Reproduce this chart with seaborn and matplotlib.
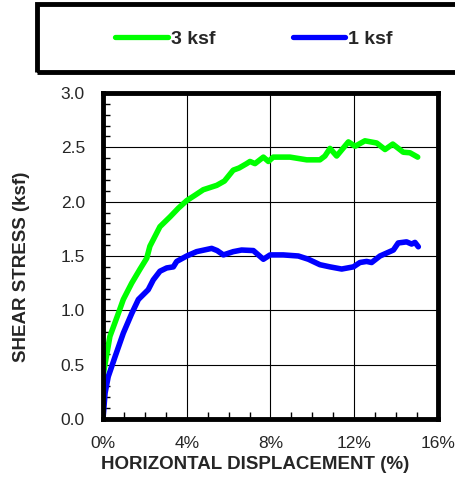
import matplotlib
matplotlib.use("Agg")
import matplotlib.pyplot as plt
from matplotlib.patches import Rectangle
from matplotlib.lines import Line2D
from matplotlib.ticker import MultipleLocator, FuncFormatter
import seaborn as sns
import pandas as pd

# 3 ksf series
x_3ksf = [0.0, 0.02, 0.33, 0.73, 0.97, 1.37, 1.77, 2.09, 2.24, 2.72, 3.2, 3.6, 4.0, 4.4, 4.79,
          5.43, 5.8, 6.22, 6.5, 6.86, 7.02, 7.26, 7.66, 7.9, 8.13, 8.93, 9.73, 10.36, 10.6,
          10.84, 11.16, 11.72, 12.04, 12.51, 13.07, 13.47, 13.84, 14.34, 14.66, 15.03]
y_3ksf = [0.0, 0.42, 0.76, 0.97, 1.10, 1.25, 1.38, 1.48, 1.59, 1.77, 1.86, 1.94, 2.01, 2.06, 2.11,
          2.15, 2.19, 2.29, 2.31, 2.35, 2.37, 2.35, 2.41, 2.37, 2.41, 2.41, 2.385, 2.385, 2.42,
          2.49, 2.42, 2.55, 2.51, 2.56, 2.54, 2.48, 2.53, 2.455, 2.45, 2.41]

# 1 ksf series
x_1ksf = [0.0, 0.1, 0.25, 0.57, 0.97, 1.37, 1.69, 2.16, 2.4, 2.72, 3.04, 3.36, 3.52, 4.0, 4.47,
          5.19, 5.45, 5.75, 6.22, 6.62, 7.18, 7.42, 7.66, 7.98, 8.61, 9.33, 9.81, 10.36, 10.84,
          11.4, 11.96, 12.27, 12.59, 12.83, 13.23, 13.87, 14.1, 14.5, 14.74, 14.9, 15.06]
y_1ksf = [0.0, 0.24, 0.39, 0.57, 0.79, 0.97, 1.10, 1.19, 1.28, 1.36, 1.39, 1.40, 1.45, 1.50, 1.54,
          1.57, 1.55, 1.51, 1.54, 1.555, 1.55, 1.51, 1.47, 1.51, 1.51, 1.50, 1.47, 1.42, 1.40,
          1.38, 1.40, 1.44, 1.45, 1.44, 1.50, 1.555, 1.62, 1.63, 1.61, 1.625, 1.585]

series_names = ["3 ksf", "1 ksf"]
x_ticks = [0, 4, 8, 12, 16]
y_ticks = [0.0, 0.5, 1.0, 1.5, 2.0, 2.5, 3.0]

df = pd.concat([
    pd.DataFrame({"x": x_3ksf, "y": y_3ksf, "series": series_names[0]}),
    pd.DataFrame({"x": x_1ksf, "y": y_1ksf, "series": series_names[1]}),
], ignore_index=True)

sns.set_style("white")
plt.rcParams["font.family"] = ["Liberation Sans", "DejaVu Sans"]

fig = plt.figure(figsize=(4.56, 4.83), dpi=100)
ax = fig.add_axes([103 / 456, 1 - 419 / 483, 335 / 456, 326 / 483])

sns.lineplot(data=df, x="x", y="y", hue="series", sort=False, estimator=None,
             palette={"3 ksf": "#00FF00", "1 ksf": "#0000FF"}, linewidth=4.0,
             ax=ax, legend=False)

ax.set_xlim(0, 16)
ax.set_ylim(0, 3)
ax.set_xticks(x_ticks)
ax.set_yticks(y_ticks)
ax.xaxis.set_major_formatter(FuncFormatter(lambda v, p: f"{v:.0f}%"))
ax.yaxis.set_major_formatter(FuncFormatter(lambda v, p: f"{v:.1f}"))
ax.xaxis.set_minor_locator(MultipleLocator(1))
ax.yaxis.set_minor_locator(MultipleLocator(0.1))
ax.tick_params(axis="both", which="major", length=0, labelsize=12.5)
ax.tick_params(axis="x", which="major", pad=12)
ax.tick_params(axis="y", which="major", pad=13)
ax.tick_params(axis="x", which="minor", direction="in", length=5, width=1, bottom=True, color="black")
ax.tick_params(axis="y", which="minor", direction="in", length=5, width=1, left=True, color="black")
ax.grid(True, which="major", color="black", linewidth=0.8)
for s in ax.spines.values():
    s.set_visible(True)
    s.set_color("black")
    s.set_linewidth(3.5)

ax.set_xlabel("HORIZONTAL DISPLACEMENT (%)", fontsize=13.5, fontweight="bold", labelpad=3.5)
ax.set_ylabel("SHEAR STRESS (ksf)", fontsize=13.5, fontweight="bold", labelpad=22)
ax.xaxis.label.set_x((255 - 103) / 335)
ax.yaxis.label.set_y((419 - 266.5) / 326)

# legend box
fig.patches.append(Rectangle((37 / 456, 1 - 72 / 483), 440 / 456, 68 / 483,
                             transform=fig.transFigure, fill=False, edgecolor="black",
                             linewidth=3.5, zorder=5))
handles = [Line2D([0], [0], color="#00FF00", lw=3.8, solid_capstyle="round"),
           Line2D([0], [0], color="#0000FF", lw=3.8, solid_capstyle="round")]
fig.legend(handles, series_names, loc="center", bbox_to_anchor=(254 / 456, 1 - 39 / 483),
           ncol=2, frameon=False, handlelength=2.7, handletextpad=0.15, columnspacing=4.0,
           prop={"weight": "bold", "size": 14})

fig.savefig("out.png", dpi=100)
